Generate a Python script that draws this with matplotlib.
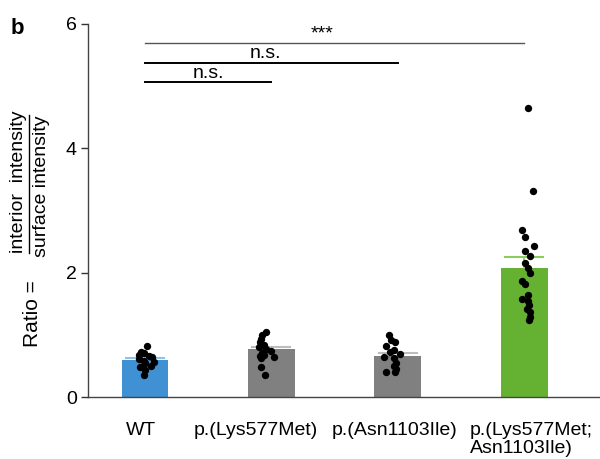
import matplotlib
matplotlib.use("Agg")
import matplotlib.pyplot as plt
from matplotlib.lines import Line2D

plt.rcParams['font.family'] = ['Liberation Sans', 'DejaVu Sans']

categories = ["WT", "p.(Lys577Met)", "p.(Asn1103Ile)", "p.(Lys577Met;\nAsn1103Ile)"]
means = [0.60, 0.77, 0.66, 2.07]
sems = [0.03, 0.04, 0.04, 0.18]

wt_points = [0.82, 0.72, 0.70, 0.67, 0.66, 0.64, 0.61, 0.58, 0.56, 0.55, 0.50, 0.48, 0.44, 0.35]
k577m_points = [1.05, 1.00, 0.94, 0.89, 0.84, 0.81, 0.77, 0.74, 0.70, 0.67, 0.66, 0.64, 0.62, 0.48, 0.35]
n1103i_points = [1.00, 0.92, 0.88, 0.82, 0.75, 0.72, 0.69, 0.65, 0.62, 0.55, 0.50, 0.45, 0.41, 0.40]
double_points = [4.64, 3.32, 2.68, 2.58, 2.43, 2.34, 2.27, 2.16, 2.07, 1.99, 1.87, 1.82,
                 1.64, 1.57, 1.55, 1.48, 1.41, 1.36, 1.29, 1.24]
points = [wt_points, k577m_points, n1103i_points, double_points]

# horizontal scatter of the dots around each bar centre
jitter = [
    [0.02, -0.03, -0.01, -0.05, 0.03, 0.06, -0.05, -0.01, 0.07, 0.0, 0.05, -0.04, 0.0, -0.01],
    [-0.04, -0.07, -0.08, -0.09, -0.06, -0.10, -0.04, 0.0, -0.07, -0.06, -0.09, 0.02, -0.08, -0.08, -0.05],
    [-0.07, -0.05, -0.02, -0.09, -0.03, -0.06, 0.02, -0.11, -0.03, -0.01, -0.03, -0.01, -0.02, -0.09],
    [0.03, 0.07, -0.02, 0.01, 0.08, 0.01, 0.05, 0.01, 0.03, 0.05, -0.02, 0.01,
     0.03, -0.02, 0.03, 0.04, 0.02, 0.05, 0.05, 0.04],
]

bar_colors = ["#3F91D3", "#808080", "#808080", "#65B232"]
sem_colors = ["#8CC3EC", "#BDBDBD", "#BDBDBD", "#8CCB5E"]

comparisons = [(0, 3, 5.69, "***"), (0, 2, 5.37, "n.s."), (0, 1, 5.06, "n.s.")]
label_x = [1.4, 0.95, 0.5]

# horizontal nudges (in points) of the category labels
label_nudge = [-2.5, -11, -2, 5]

fig = plt.figure(figsize=(6.0, 4.59), dpi=100)
ax = fig.add_axes([0.1467, 0.135, 0.8533, 0.813])

x = list(range(len(categories)))
ax.bar(x, means, width=0.37, color=bar_colors, zorder=1)
for xi, m, s, c in zip(x, means, sems, sem_colors):
    ax.plot([xi, xi], [m, m + s], color=c, lw=1.2, zorder=2)
    ax.plot([xi - 0.15, xi + 0.15], [m + s, m + s], color=c, lw=1.5, zorder=2)

for xi, vals, offs in zip(x, points, jitter):
    ax.scatter([xi + o for o in offs], vals, s=28, color="black", zorder=3, linewidths=0)

for (a, b, y, txt), tx in zip(comparisons, label_x):
    if txt == "***":
        ax.plot([a, b], [y, y], color="#555555", lw=1.0, clip_on=False)
        ax.text(tx, y + 0.01, txt, ha="center", va="bottom", fontsize=14)
    else:
        ax.plot([a, b], [y, y], color="black", lw=1.4, clip_on=False)
        ax.text(tx, y + 0.01, txt, ha="center", va="bottom", fontsize=14)

ax.set_xlim(-0.45, 3.6)
ax.set_ylim(0, 6)
ax.set_yticks([0, 2, 4, 6])
ax.set_xticks(x)
ax.set_xticklabels([])
ax.tick_params(axis="x", length=0)
for xi, name, dx in zip(x, categories, label_nudge):
    ax.annotate(name, xy=(xi, 0), xycoords=ax.get_xaxis_transform(),
                xytext=(dx, -18), textcoords="offset points",
                ha="center", va="top", fontsize=14, linespacing=1.1,
                multialignment="left", annotation_clip=False)
ax.tick_params(axis="y", labelsize=14, length=5, width=1, color="#333333", pad=3)
for side in ("top", "right"):
    ax.spines[side].set_visible(False)
for side in ("left", "bottom"):
    ax.spines[side].set_color("#444444")
    ax.spines[side].set_linewidth(1.0)

# y-axis label: Ratio = interior intensity / surface intensity
W, H = 600.0, 459.0
fig.text(33 / W, 1 - 314 / H, "Ratio =", rotation=90, ha="center", va="center", fontsize=15)
fig.text(19 / W, 1 - 182 / H, "interior  intensity", rotation=90, ha="center", va="center", fontsize=14)
fig.text(41 / W, 1 - 186 / H, "surface intensity", rotation=90, ha="center", va="center", fontsize=14)
fig.add_artist(Line2D([29 / W, 29 / W], [1 - 115 / H, 1 - 253 / H], color="black", lw=1.0,
                      transform=fig.transFigure))

fig.text(17 / W, 1 - 28 / H, "b", ha="center", va="center", fontsize=16, fontweight="bold")

fig.savefig("out.png", dpi=100)
